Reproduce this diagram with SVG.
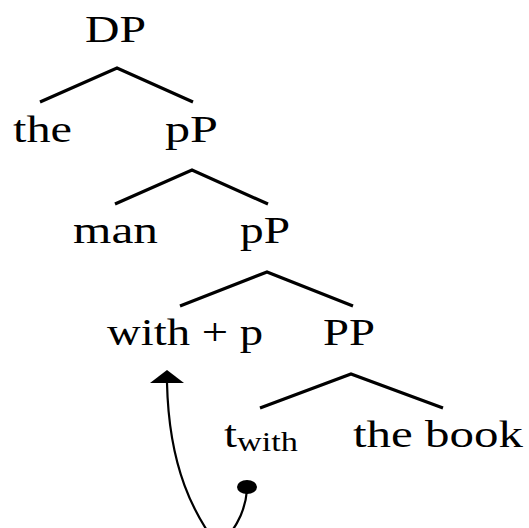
<svg xmlns="http://www.w3.org/2000/svg" width="529" height="528" viewBox="0 0 529 528">
<defs>
<style>
text{font-family:"Liberation Serif","Times New Roman",serif;font-size:38px;fill:#000}
.sub{font-size:27px}
.br{fill:none;stroke:#000;stroke-width:3.2;stroke-linejoin:miter}
.mv{fill:none;stroke:#000;stroke-width:2.2}
</style>
</defs>
<rect width="529" height="528" fill="#fff"/>
<g id="connectors">
<polyline class="br" points="40,102 117,68 193,102"/>
<polyline class="br" points="115,204 192,170 268,204"/>
<polyline class="br" points="180,306 267,272 353,306"/>
<polyline class="br" points="260,408 351,374 443,408"/>
<path class="mv" d="M167,383 C169,470 195,515 217,545 C232,535 245,515 247,490"/>
<polygon points="167,370 184,383 150,383" fill="#000"/>
<ellipse cx="247" cy="487" rx="10" ry="7" fill="#000"/>
</g>
<g id="DP"><text x="85" y="42" textLength="61" lengthAdjust="spacingAndGlyphs">DP</text></g>
<g id="the"><text x="13" y="142" textLength="59" lengthAdjust="spacingAndGlyphs">the</text></g>
<g id="pP1"><text x="165" y="142" textLength="53" lengthAdjust="spacingAndGlyphs">pP</text></g>
<g id="man"><text x="73" y="243" textLength="85" lengthAdjust="spacingAndGlyphs">man</text></g>
<g id="pP2"><text x="240" y="243" textLength="50" lengthAdjust="spacingAndGlyphs">pP</text></g>
<g id="with_p"><text x="107" y="345" textLength="156" lengthAdjust="spacingAndGlyphs">with + p</text></g>
<g id="PP"><text x="323" y="345" textLength="52" lengthAdjust="spacingAndGlyphs">PP</text></g>
<g id="t_with"><text x="224" y="447" textLength="13" lengthAdjust="spacingAndGlyphs">t</text><text class="sub" x="237" y="451" textLength="61" lengthAdjust="spacingAndGlyphs">with</text></g>
<g id="the_book"><text x="353" y="447" textLength="170" lengthAdjust="spacingAndGlyphs">the book</text></g>
</svg>
